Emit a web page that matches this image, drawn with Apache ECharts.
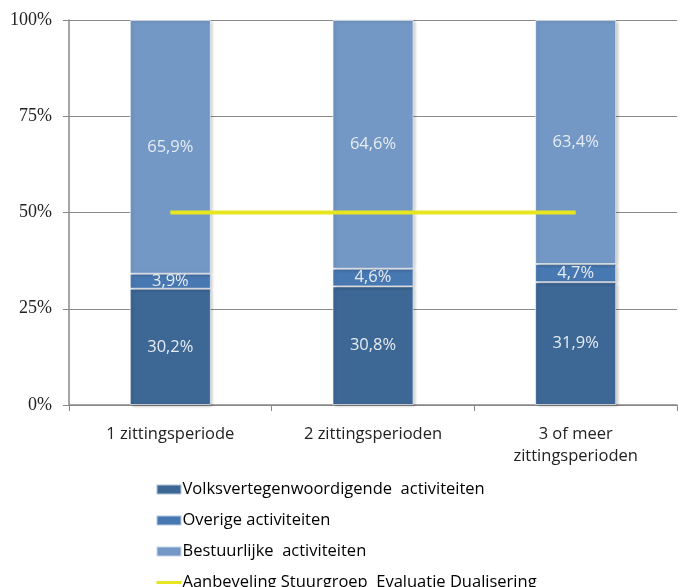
<!DOCTYPE html>
<html><head><meta charset="utf-8">
<script src="https://cdn.jsdelivr.net/npm/echarts@6/dist/echarts.min.js"></script>
<style>html,body{margin:0;padding:0;background:#fff}#c{width:684px;height:587px}</style>
</head><body><div id="c"></div>
<script>
var categories = ['1 zittingsperiode', '2 zittingsperioden', '3 of meer\nzittingsperioden'];
var volks = [30.2, 30.8, 31.9];
var overige = [3.9, 4.6, 4.7];
var bestuur = [65.9, 64.6, 63.4];
var aanbeveling = [50, 50, 50];
var yTicks = [0, 25, 50, 75, 100];

var chart = echarts.init(document.getElementById('c'));
var lblFont = 'Open Sans';
function barSeries(name, data, color) {
  return {
    name: name, type: 'bar', stack: 'a', data: data, barWidth: '40%',
    itemStyle: { color: color, borderColor: 'rgba(255,255,255,0.6)', borderWidth: 1,
      shadowColor: 'rgba(0,0,0,0.25)', shadowBlur: 3, shadowOffsetX: 2, shadowOffsetY: 1 },
    label: { show: true, position: 'inside', color: '#e6ecf3', fontSize: 16.5, fontFamily: lblFont,
      formatter: function (p) { return p.value.toFixed(1).replace('.', ',') + '%'; } }
  };
}
chart.setOption({
  animation: false,
  grid: { left: 69, right: 7, top: 20, bottom: 182 },
  legend: {
    orient: 'vertical', left: 150, top: 476, height: 140, itemGap: 14, itemWidth: 25, itemHeight: 10,
    textStyle: { fontSize: 16.5, lineHeight: 16, fontFamily: lblFont, color: '#000', padding: [0,0,0,-4] },
    data: [
      { name: 'Volksvertegenwoordigende  activiteiten', icon: 'rect' },
      { name: 'Overige activiteiten', icon: 'rect' },
      { name: 'Bestuurlijke  activiteiten', icon: 'rect' },
      { name: 'Aanbeveling Stuurgroep  Evaluatie Dualisering', itemStyle: { opacity: 0 }, lineStyle: { width: 3 } }
    ]
  },
  xAxis: {
    type: 'category', data: categories,
    axisLine: { lineStyle: { color: '#888', width: 1.5 } },
    axisTick: { show: true, length: 6, lineStyle: { color: '#888' } },
    axisLabel: { fontSize: 16.5, fontFamily: lblFont, color: '#222', margin: 18, lineHeight: 22 }
  },
  yAxis: {
    type: 'value', min: 0, max: 100, interval: 25,
    axisLine: { show: true, lineStyle: { color: '#888', width: 1.5 } },
    axisTick: { show: true, length: 6, lineStyle: { color: '#888' } },
    splitLine: { lineStyle: { color: '#8a8a8a', width: 1.2 } },
    axisLabel: { fontSize: 18, fontFamily: 'Liberation Serif', color: '#222', margin: 17,
      formatter: function (v) { return yTicks.indexOf(v) >= 0 ? v + '%' : ''; } }
  },
  series: [
    barSeries('Volksvertegenwoordigende  activiteiten', volks, '#3d6795'),
    barSeries('Overige activiteiten', overige, '#4878b1'),
    barSeries('Bestuurlijke  activiteiten', bestuur, '#7398c5'),
    {
      name: 'Aanbeveling Stuurgroep  Evaluatie Dualisering', type: 'line', data: aanbeveling,
      symbol: 'none', lineStyle: { color: '#e6e620', width: 4 }, itemStyle: { color: '#e6e620' }, z: 5
    }
  ]
});
</script></body></html>
